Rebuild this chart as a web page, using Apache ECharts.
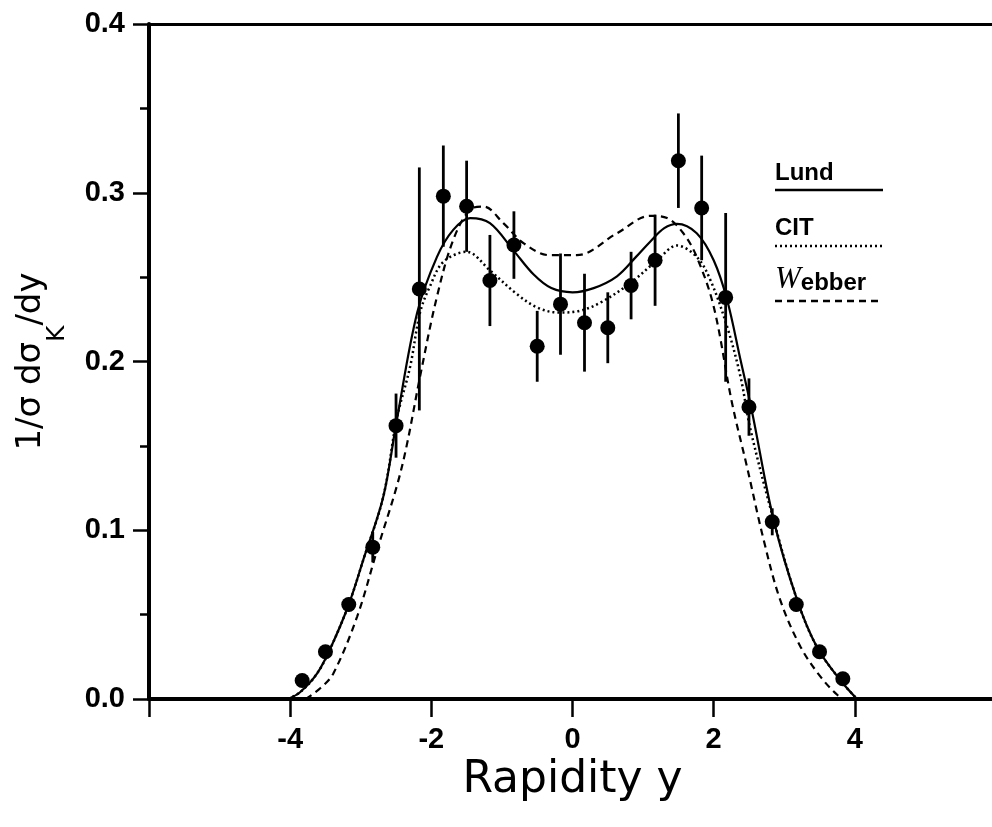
<!DOCTYPE html>
<html>
<head>
<meta charset="utf-8">
<script src="https://cdn.jsdelivr.net/npm/echarts@6.0.0/dist/echarts.min.js"></script>
<style>
html,body{margin:0;padding:0;background:#fff;}
#chart{width:992px;height:827px;}
</style>
</head>
<body>
<div id="chart"></div>
<script>
// ---- data ----
const xTickLabels = ['-4', '-2', '0', '2', '4'];
const yTickLabels = ['0.0', '0.1', '0.2', '0.3', '0.4'];

const pointX = [-3.83,-3.5,-3.17,-2.83,-2.5,-2.17,-1.83,-1.5,-1.17,-0.83,-0.5,-0.17,
                0.17,0.5,0.83,1.17,1.5,1.83,2.17,2.5,2.83,3.17,3.5,3.83];
const pointY = [0.011,0.028,0.056,0.090,0.162,0.243,0.298,0.292,0.248,0.269,0.209,0.234,
                0.223,0.220,0.245,0.260,0.319,0.291,0.238,0.173,0.105,0.056,0.028,0.012];
const pointErr = [0.003,0.003,0.004,0.009,0.019,0.072,0.030,0.027,0.027,0.020,0.021,0.030,
                  0.029,0.021,0.020,0.027,0.028,0.031,0.050,0.017,0.008,0.004,0.003,0.002];

const lundX = [-4.03,-3.86,-3.62,-3.43,-3.17,-2.96,-2.68,-2.49,-2.20,-1.92,-1.69,-1.45,-1.17,-0.84,-0.55,-0.30,0.00,
               0.30,0.63,0.90,1.10,1.30,1.48,1.76,2.00,2.19,2.38,2.54,2.85,3.18,3.46,3.79,4.03];
const lundY = [0,0.004,0.015,0.030,0.056,0.083,0.120,0.165,0.229,0.262,0.278,0.285,0.282,0.266,0.2515,0.2435,0.241,
               0.2435,0.2505,0.262,0.271,0.279,0.2816,0.276,0.260,0.2366,0.201,0.171,0.106,0.059,0.031,0.0114,0];

const citX = [-4.03,-3.86,-3.62,-3.43,-3.17,-2.96,-2.68,-2.49,-2.30,-2.16,-2.02,-1.83,-1.50,-1.17,-0.79,-0.50,
              -0.20,0.10,0.40,0.82,1.20,1.48,1.76,1.95,2.19,2.38,2.52,2.85,3.18,3.46,3.79,4.03];
const citY = [0,0.004,0.015,0.030,0.056,0.083,0.120,0.166,0.197,0.229,0.2445,0.259,0.265,0.254,0.240,0.232,
              0.229,0.230,0.235,0.2465,0.260,0.2687,0.262,0.2486,0.2207,0.191,0.160,0.106,0.059,0.031,0.0114,0];

const webX = [-3.78,-3.57,-3.39,-3.05,-2.77,-2.49,-2.35,-2.16,-1.92,-1.69,-1.45,-1.26,-0.98,-0.69,-0.32,0.06,
              0.63,1.10,1.34,1.57,1.76,2.00,2.26,2.47,2.71,2.94,3.23,3.51,3.75,3.86];
const webY = [0,0.0065,0.015,0.049,0.088,0.126,0.150,0.191,0.2385,0.272,0.290,0.2918,0.282,0.270,0.263,0.263,
              0.276,0.2863,0.285,0.276,0.262,0.2326,0.1754,0.138,0.094,0.059,0.031,0.0134,0.0025,0];

const legendNames = ['Lund', 'CIT', 'Webber'];

// ---- build ----
const zip = (xs, ys) => xs.map((x, i) => [x, ys[i]]);
const errData = pointX.map((x, i) => [x, pointY[i] - pointErr[i], pointY[i] + pointErr[i]]);

const chart = echarts.init(document.getElementById('chart'), null, {renderer: 'canvas'});
const tickFont = {fontFamily: 'Liberation Sans', fontWeight: 'bold', fontSize: 29, color: '#000'};

const option = {
  animation: false,
  backgroundColor: '#fff',
  grid: {left: 149, right: -4, top: 24, bottom: 128, containLabel: false, outerBoundsMode: 'none'},
  xAxis: [{
    type: 'value', min: -6, max: 6, interval: 2,
    name: 'Rapidity y', nameLocation: 'middle', nameGap: 57,
    nameTextStyle: {fontFamily: 'DejaVu Sans', fontSize: 44, color: '#000'},
    axisLine: {show: true, onZero: false, lineStyle: {color: '#000', width: 4}},
    axisTick: {show: true, inside: false, length: 18, lineStyle: {color: '#000', width: 2.5}},
    axisLabel: Object.assign({margin: 26, formatter: v => {
      const s = String(Math.round(v)); return xTickLabels.includes(s) ? s : '';
    }}, tickFont),
    splitLine: {show: false}
  }, {
    type: 'value', min: -6, max: 6, position: 'top',
    axisLine: {show: true, onZero: false, lineStyle: {color: '#000', width: 3}},
    axisTick: {show: false}, axisLabel: {show: false}, splitLine: {show: false}
  }],
  yAxis: {
    type: 'value', min: 0, max: 0.4, interval: 0.1,
    name: '{a|1/σ dσ}{k|K}{a|/dy}', nameLocation: 'middle', nameGap: 79,
    nameTextStyle: {
      color: '#000', fontFamily: 'DejaVu Sans', fontSize: 34,
      rich: {
        a: {fontFamily: 'DejaVu Sans', fontSize: 34, lineHeight: 36, verticalAlign: 'top', color: '#000'},
        k: {fontFamily: 'DejaVu Sans', fontSize: 25, lineHeight: 56, verticalAlign: 'bottom', color: '#000'}
      }
    },
    axisLine: {show: true, onZero: false, lineStyle: {color: '#000', width: 4}},
    axisTick: {show: true, inside: false, length: 16, lineStyle: {color: '#000', width: 2.5}},
    minorTick: {show: true, splitNumber: 2, length: 9, lineStyle: {color: '#000', width: 2.5}},
    axisLabel: Object.assign({margin: 24, formatter: v => {
      const s = v.toFixed(1); return yTickLabels.includes(s) ? s : '';
    }}, tickFont),
    splitLine: {show: false}
  },
  graphic: [
    {type: 'text', left: 775, top: 161, style: {text: legendNames[0], font: 'bold 24px "Liberation Sans"', fill: '#000'}},
    {type: 'line', shape: {x1: 775, y1: 190, x2: 883, y2: 190}, style: {stroke: '#000', lineWidth: 2.5}},
    {type: 'text', left: 775, top: 216, style: {text: legendNames[1], font: 'bold 24px "Liberation Sans"', fill: '#000'}},
    {type: 'line', shape: {x1: 775, y1: 246, x2: 883, y2: 246}, style: {stroke: '#000', lineWidth: 2.5, lineDash: [2, 3]}},
    {type: 'text', left: 775, top: 264, style: {
      text: '{w|W}{r|ebber}', fill: '#000',
      rich: {
        w: {fontFamily: 'Liberation Serif', fontStyle: 'italic', fontSize: 31, fill: '#000', verticalAlign: 'bottom'},
        r: {fontFamily: 'Liberation Sans', fontWeight: 'bold', fontSize: 24, fill: '#000', verticalAlign: 'bottom'}
      }}},
    {type: 'line', shape: {x1: 775, y1: 301, x2: 883, y2: 301}, style: {stroke: '#000', lineWidth: 2.5, lineDash: [7, 5]}}
  ],
  series: [
    {
      name: 'Lund', type: 'line', data: zip(lundX, lundY), smooth: 0.35, showSymbol: false, symbol: 'none',
      lineStyle: {color: '#000', width: 2.2, type: 'solid'}, z: 3
    },
    {
      name: 'CIT', type: 'line', data: zip(citX, citY), smooth: 0.35, showSymbol: false, symbol: 'none',
      lineStyle: {color: '#000', width: 2.5, type: [2, 3]}, z: 3
    },
    {
      name: 'Webber', type: 'line', data: zip(webX, webY), smooth: 0.35, showSymbol: false, symbol: 'none',
      lineStyle: {color: '#000', width: 2.2, type: [7, 5]}, z: 3
    },
    {
      name: 'errors', type: 'custom', data: errData, z: 4,
      renderItem: (params, api) => {
        const p1 = api.coord([api.value(0), api.value(1)]);
        const p2 = api.coord([api.value(0), api.value(2)]);
        return {type: 'line', shape: {x1: p1[0], y1: p1[1], x2: p2[0], y2: p2[1]},
                style: {stroke: '#000', lineWidth: 2.8}};
      }
    },
    {
      name: 'data', type: 'scatter', data: zip(pointX, pointY), symbol: 'circle', symbolSize: 15,
      itemStyle: {color: '#000', opacity: 1}, z: 5
    }
  ]
};
chart.setOption(option);
</script>
</body>
</html>
